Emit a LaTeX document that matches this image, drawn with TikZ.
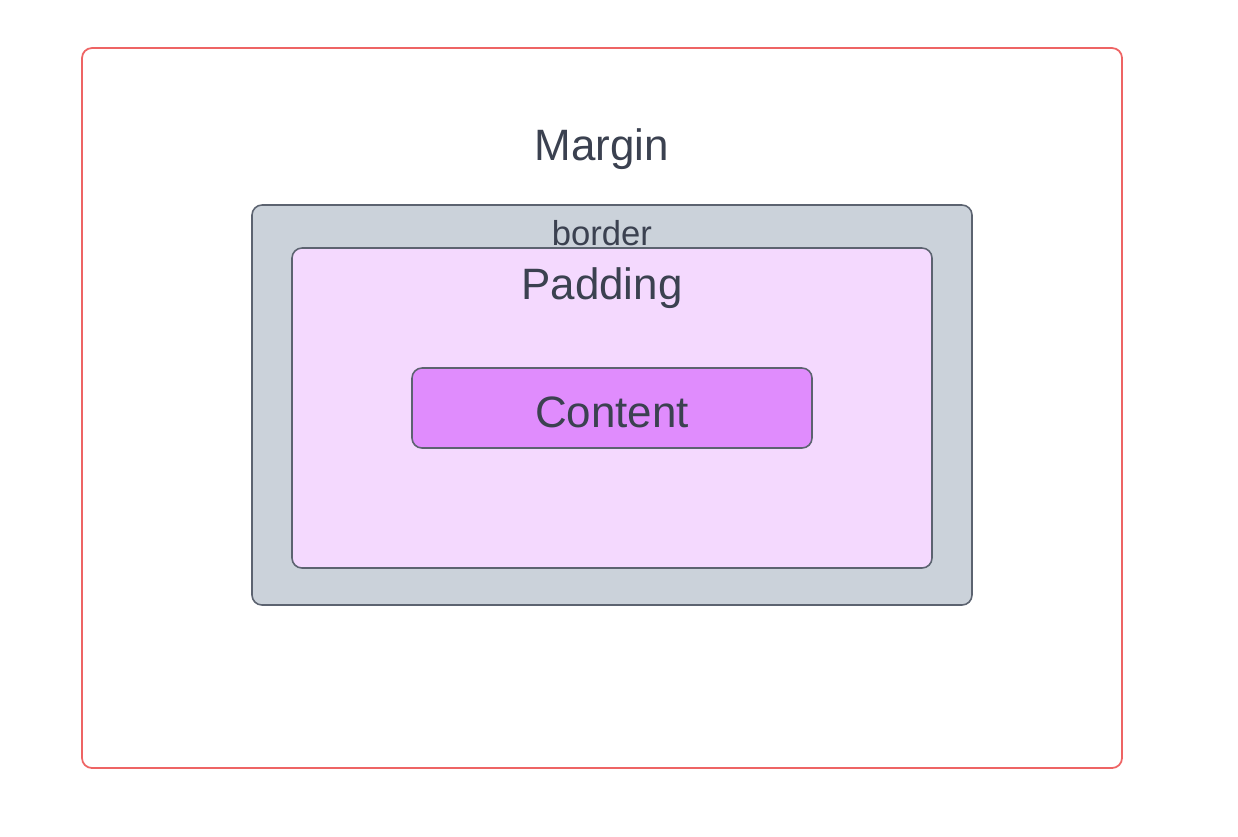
\documentclass[tikz,border=0pt]{standalone}
\usepackage{fontspec}
\setmainfont{Liberation Sans}
\definecolor{marginred}{HTML}{EE6464}
\definecolor{borderfill}{HTML}{CBD2DA}
\definecolor{boxline}{HTML}{5C6370}
\definecolor{paddingfill}{HTML}{F4D9FE}
\definecolor{contentfill}{HTML}{E08CFD}
\definecolor{labeltext}{HTML}{3B4150}
\tikzset{
  layerbox/.style={draw=boxline, line width=0.45pt, rounded corners=0.1cm, inner sep=0pt},
  bigtext/.style={text=labeltext, font=\fontsize{12.5}{15}\selectfont},
}
\begin{document}
\begin{tikzpicture}[y=-1cm]
		
		% Rahmen
		\useasboundingbox (0,0) rectangle (12.38,8.36);
		
		% Margin
		\node[draw=marginred, line width=0.5pt, rounded corners=0.1cm, minimum width=10.4cm, minimum height=7.2cm] (margin) at (6.02,4.08) {};
		\node[bigtext] (marginlabel) at (6.02,1.49) {Margin};
		
		% Border
		\node[layerbox, fill=borderfill, minimum width=7.2cm, minimum height=4.0cm] (border) at (6.12,4.05) {};
		\node[text=labeltext, font=\fontsize{9.85}{12}\selectfont] (borderlabel) at (6.02,2.33) {border};
		
		% Padding
		\node[layerbox, fill=paddingfill, minimum width=6.4cm, minimum height=3.2cm] (padding) at (6.12,4.08) {};
		\node[bigtext] (paddinglabel) at (6.02,2.88) {Padding};
		
		% Content
		\node[layerbox, fill=contentfill, minimum width=4.0cm, minimum height=0.8cm] (content) at (6.12,4.08) {};
		\node[bigtext] (contentlabel) at (6.12,4.12) {Content};
		
	\end{tikzpicture}
\end{document}
